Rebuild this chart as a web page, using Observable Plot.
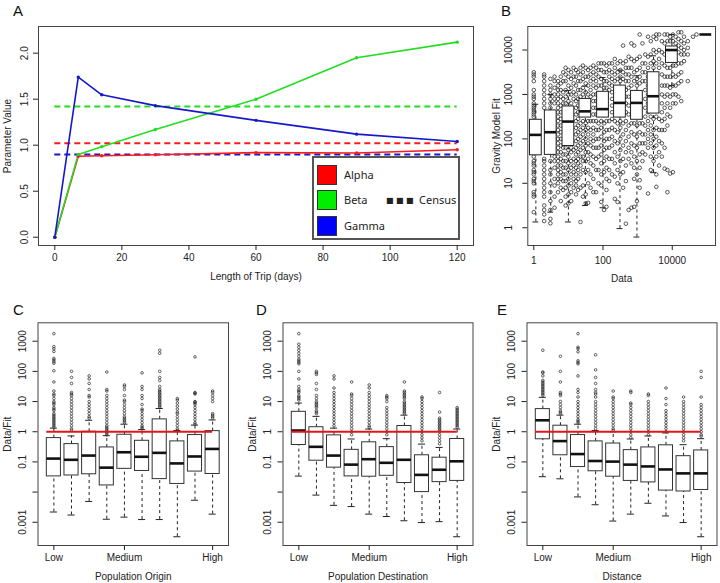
<!DOCTYPE html>
<html><head><meta charset="utf-8">
<script src="https://cdn.jsdelivr.net/npm/d3@7"></script>
<script src="https://cdn.jsdelivr.net/npm/@observablehq/plot@0.6"></script>
<style>
body{margin:0;background:#fff;}
#root{position:relative;width:720px;height:583px;overflow:hidden;font-family:"Liberation Sans",Arial,sans-serif;color:#222;background:#fff;}
.panel{position:absolute;}
.letter{position:absolute;font-size:15px;line-height:15px;color:#111;}
#legend{position:absolute;left:312px;top:156px;width:144px;height:80px;border:2px solid #555;background:#fff;font-family:"Noto Sans",sans-serif;font-size:11px;color:#222;}
#legend .sw{position:absolute;left:3px;width:20px;height:20px;border:1px solid #333;box-sizing:border-box;}
#legend .lab{position:absolute;left:30px;line-height:14px;}
</style></head><body>
<div id="root">
  <div class="panel" id="pA" style="left:0;top:0;width:480px;height:290px"></div>
  <div class="panel" id="pB" style="left:480px;top:0;width:240px;height:290px"></div>
  <div class="panel" id="pC" style="left:0;top:290px;width:240px;height:293px"></div>
  <div class="panel" id="pD" style="left:240px;top:290px;width:240px;height:293px"></div>
  <div class="panel" id="pE" style="left:480px;top:290px;width:240px;height:293px"></div>
  <div id="legend"></div>
  <div class="letter" style="left:13px;top:3px">A</div>
  <div class="letter" style="left:501px;top:3px">B</div>
  <div class="letter" style="left:13px;top:302px">C</div>
  <div class="letter" style="left:256px;top:302px">D</div>
  <div class="letter" style="left:497px;top:302px">E</div>
</div>
<script>
// ---------------- Panel A data ----------------
const tripDays = [0, 7, 14, 30, 60, 90, 120];
const alphaValues = [0, 0.88, 0.886, 0.897, 0.919, 0.915, 0.951];
const betaValues = [0, 0.90, 0.984, 1.17, 1.50, 1.95, 2.12];
const gammaValues = [0, 1.74, 1.548, 1.43, 1.27, 1.12, 1.04];
const paramNames = ["Alpha", "Beta", "Gamma"];
const paramColors = ["#ff1a1a", "#22dd22", "#1717cc"];
const legendColors = ["#ff0000", "#00ee00", "#0000ff"];
const censusValues = [1.02, 1.42, 0.90];
const aXTicks = [0, 20, 40, 60, 80, 100, 120];
const aYTicks = [0, 0.5, 1, 1.5, 2];

// ---------------- Panel B data (log10 units) ----------------
const bXTicks = [1, 100, 10000];
const bYTicks = [1, 10, 100, 1000, 10000];
const bBoxCenterLog = [0.06, 0.49, 1.0, 1.49, 2.0, 2.49, 2.98, 3.46, 3.99, 4.97];
const bQ1Log  = [1.63, 1.64, 1.84, 2.48, 2.48, 2.48, 2.43, 2.57, 3.71, 4.35];
const bMedLog = [2.09, 2.15, 2.39, 2.62, 2.67, 2.81, 2.81, 2.96, 4.00, 4.35];
const bQ3Log  = [2.43, 2.64, 2.73, 2.90, 3.06, 3.20, 3.08, 3.50, 4.08, 4.35];
const bLoLog  = [0.13, 0.35, 0.13, 0.50, 0.45, -0.02, -0.21, 1.24, 3.20, 4.35];
const bHiLog  = [2.78, 3.00, 3.09, 3.19, 3.38, 3.55, 3.42, 3.87, 4.35, 4.35];
// scatter: [log10 data, [log10 fit values...]]
const bScatterColumns = [
  [0.00, [3.5,3.45,3.4,3.3,3.1,3.0,2.95,2.9,2.8,2.75,2.7,2.65,2.6,2.55,2.5,1.6,1.5,1.45,1.4,1.3,1.25,1.2,1.1,1.05,1.0,0.8,0.75,0.7,0.35]],
  [0.30, [3.45,3.4,3.3,3.2,3.1,3.0,2.9,2.8,2.7,1.55,1.5,1.4,1.3,1.2,1.1,1.0,0.9,0.8,0.7,0.5,0.4,0.3,0.15]],
  [0.48, [3.35,3.2,3.1,3.0,2.9,2.8,2.7,1.5,1.3,1.2,1.0,0.8,0.6,0.4,0.2,0.1]],
  [0.60, [3.4,3.3,3.15,3.0,2.9,2.8,2.2,2.0,1.6,1.5,1.35,1.1,0.95,0.7,0.45]],
  [0.70, [3.3,3.2,3.1,3.0,2.9,2.8,2.7,2.6,2.5,2.4,2.3,2.2,2.1,2.0,1.9,1.8,1.7,1.6,1.5,1.4,1.3,1.2,1.1,1.0,0.8]],
  [0.78, [3.4,3.25,3.1,2.95,2.75,2.6,2.45,2.3,2.15,2.0,1.85,1.7,1.55,1.4,1.25,1.1,0.9,0.6]],
  [0.85, [3.5,3.3,3.05,2.9,2.8,1.8,1.65,1.5,1.35,1.2,1.05,0.85]],
  [0.92, [3.6,3.45,3.3,3.1,2.95,2.8,1.8,1.65,1.5,1.35,1.2,1.05,0.9,0.7,0.5]],
  [1.00, [3.55,3.4,3.2,3.0,2.85,1.75,1.6,1.45,1.3,1.1,0.95,0.75,0.55]],
  [1.08, [3.5,3.35,3.15,3.0,2.8,1.8,1.7,1.5,1.35,1.2,1.0,0.8,0.6]],
  [1.15, [3.6,3.4,3.25,3.05,2.9,1.75,1.55,1.4,1.25,1.1,0.9]],
  [1.22, [3.55,3.4,3.2,3.0,2.85,2.7,2.55,2.4,2.25,2.1,1.95,1.8,1.65,1.5,1.35,1.2,1.05,0.95,0.75]],
  [1.28, [3.5,3.3,3.1,2.9,2.75,2.6,2.45,2.3,2.15,2.0,1.85,1.7,1.55,1.45,1.3,1.1,0.85]],
  [1.35, [3.6,3.45,3.3,3.1,2.95,2.35,2.2,2.05,1.9,1.75,1.6,1.4,1.2,0.9,0.13]],
  [1.42, [3.65,3.5,3.35,3.15,3.0,2.4,2.25,2.1,1.95,1.8,1.6,1.5,1.3,0.95,0.7]],
  [1.50, [3.6,3.4,3.25,3.05,2.35,2.2,2.0,1.85,1.7,1.5,1.25,0.75,0.55]],
  [1.57, [3.55,3.4,3.2,3.0,2.4,2.25,2.1,1.9,1.7,1.55,1.3,1.0,0.56]],
  [1.64, [3.6,3.45,3.3,3.1,2.95,2.4,2.2,2.0,1.85,1.65,1.45,1.2,0.9]],
  [1.72, [3.65,3.5,3.35,3.2,3.0,2.85,2.7,2.55,2.4,2.25,2.1,1.95,1.8,1.6,1.4,1.1,0.8]],
  [1.80, [3.6,3.45,3.3,3.15,3.0,2.85,2.7,2.55,2.4,2.2,2.0,1.8,1.55,1.3,0.8]],
  [1.87, [3.7,3.55,3.4,3.2,2.35,2.2,2.0,1.8,1.6,1.3,1.0]],
  [1.95, [3.7,3.55,3.35,3.2,2.4,2.25,2.05,1.85,1.65,1.45,1.2,0.95,0.58]],
  [2.03, [3.7,3.5,3.3,3.15,2.35,2.15,1.95,1.75,1.5,1.25,0.4]],
  [2.10, [3.65,3.5,3.3,3.15,2.4,2.2,2.0,1.8,1.6,1.35,1.1,0.85,0.47]],
  [2.18, [3.7,3.55,3.4,3.25,3.1,2.4,2.2,2.0,1.8,1.55,1.3,1.05]],
  [2.26, [3.7,3.5,3.35,3.2,3.05,2.9,2.75,2.6,2.45,2.25,2.05,1.85,1.55,1.2]],
  [2.34, [3.8,3.6,3.45,3.3,2.4,2.2,1.95,1.7,1.45,1.15,0.65]],
  [2.42, [3.7,3.5,3.35,2.35,2.15,1.9,1.6,1.3,1.0,0.58]],
  [2.50, [3.75,3.55,3.4,3.3,2.4,2.25,2.0,1.75,1.5,1.2]],
  [2.58, [4.1,3.7,3.5,3.35,2.35,2.1,1.85,1.55,1.25,0.9]],
  [2.66, [3.75,3.6,3.45,3.3,3.1,2.95,2.8,2.6,2.4,2.2,1.95,1.7,1.4,1.05,0.09]],
  [2.74, [3.85,3.6,3.45,3.3,3.15,2.95,2.75,2.55,2.3,2.05,1.8,1.55,0.4]],
  [2.82, [4.15,3.8,3.6,3.4,3.2,2.35,2.15,1.9,1.7,1.45,0.45]],
  [2.90, [4.1,3.75,3.5,3.3,2.35,2.1,1.85,1.6,1.35,1.1,0.47]],
  [2.98, [3.8,3.55,3.35,3.2,2.3,2.05,1.8,1.5,1.2,0.6]],
  [3.06, [4.35,3.85,3.6,3.4,3.25,2.35,2.15,1.9,1.65,1.35,1.07,0.9]],
  [3.14, [4.15,3.7,3.5,3.3,2.35,2.1,1.9,1.7,1.5]],
  [3.22, [3.9,3.7,3.5,3.3,3.1,2.9,2.7,2.5,2.3,2.1,1.9,1.65]],
  [3.30, [4.3,3.85,3.6,3.4,3.2,3.0,2.8,2.6,2.4,2.2,2.0,1.8,0.77]],
  [3.38, [4.2,3.9,3.7,2.5,2.3,2.1,1.9,1.6,1.3]],
  [3.46, [4.3,4.0,3.75,3.6,2.45,2.2,2.0,1.8,1.5]],
  [3.54, [4.35,4.25,3.95,3.7,2.5,2.25,2.05,1.85,1.6,1.2,0.92]],
  [3.62, [4.35,4.0,3.8,3.6,2.45,2.2,1.95,1.7,1.4]],
  [3.70, [4.2,3.95,3.7,3.45,3.2,3.0,2.8,2.6,2.4,2.2,1.9,1.6]],
  [3.78, [4.35,4.15,3.9,3.65,3.4,3.2,2.95,2.7,2.45,2.2,1.8,1.33]],
  [3.86, [4.35,4.2,3.6,3.4,3.2,3.0,2.8,2.55,2.3,1.3,0.8]],
  [3.94, [4.3,4.2,3.6,3.4,3.15,2.95,2.7,2.5,1.22]],
  [4.02, [4.35,4.2,3.65,3.45,3.2,3.0,2.8,1.25]],
  [4.10, [4.3,4.15,3.65,3.4,3.2,3.0,2.8]],
  [4.18, [4.4,4.25,4.1,3.95,3.7,3.45,3.25,2.95]],
  [4.26, [4.4,4.2,4.05,3.9,3.7,3.5,3.3,2.85]],
  [4.34, [4.3,4.15,4.0,3.9,3.75]],
  [4.45, [4.2,4.05,3.9,3.3]],
  [4.60, [4.3]],
  [4.70, [4.35]]
];

// ---------------- Panels C, D, E data (log10 of Data/Fit) ----------------
const groupPositions = [1, 2, 3, 4, 5, 6, 7, 8, 9, 10];
const groupTickPositions = [1, 5, 10];
const groupTickLabels = ["Low", "Medium", "High"];
const ratioTicks = [0.001, 0.01, 0.1, 1, 10, 100, 1000];
const ratioTickLabels = ["0.001", "", "0.1", "1", "10", "100", "1000"];
const referenceRatio = [1];
const referenceSpan = [0.6, 10];

const cQ3Log  = [-0.21, -0.41, 0.00, -0.52, -0.10, -0.30, 0.41, -0.32, -0.11, 0.02];
const cMedLog = [-0.89, -0.93, -0.79, -1.19, -0.68, -0.83, -0.70, -1.05, -0.82, -0.57];
const cQ1Log  = [-1.48, -1.45, -1.41, -1.78, -1.23, -1.30, -1.57, -1.73, -1.32, -1.40];
const cLoLog  = [-2.66, -2.76, -2.31, -2.90, -2.83, -2.91, -2.91, -3.48, -2.27, -2.73];
const cHiLog  = [0.12, -0.14, 0.38, -0.13, 0.25, 0.07, 0.77, 0.04, 0.22, 0.39];
const cOutLog = [
  [3.25,2.82,2.75,2.66,2.43,2.38,2.32,2.27,2.02,1.65,1.35,1.25,1.2,1.1,1.0,0.95,0.9,0.8,0.75,0.7,0.6,0.55,0.5,0.45,0.4,0.35,0.3,0.25,0.2,0.15],
  [2.0,1.8,1.6,1.3,1.25,1.2,1.1,1.0,0.9,0.8,0.7,0.6,0.5,0.4,0.3,0.2,0.1,0.05],
  [1.85,1.75,1.6,1.4,1.2,1.15,1.0,0.9,0.8,0.7,0.6,0.5,0.45],
  [1.98,1.4,1.35,1.2,1.1,1.0,0.9,0.8,0.7,0.6,0.5,0.4,0.3,0.2,0.15,0.1,0.05,0.0,-0.05,-0.1],
  [1.55,1.5,1.4,1.2,1.05,1.0,0.9,0.8,0.7,0.6,0.5,0.45,0.4,0.35,0.3],
  [1.95,1.5,1.4,1.2,1.1,0.9,0.75,0.7,0.6,0.5,0.4,0.3,0.2,0.15,0.1],
  [2.7,2.6,2.0,1.8,1.7,1.5,1.4,1.35,1.3,1.25,1.2,1.15,1.1,1.05,1.0,0.95,0.9,0.85,0.8],
  [1.1,1.05,0.95,0.85,0.75,0.65,0.6,0.5,0.4,0.3,0.2,0.1,0.05],
  [2.48,1.3,1.28,1.25,1.0,0.98,0.95,0.9,0.8,0.7,0.6,0.5,0.4,0.3,0.25],
  [1.35,1.3,1.2,1.1,1.0,0.6,0.55,0.5,0.45]
];

const dQ3Log  = [0.66, 0.15, -0.12, -0.60, -0.35, -0.51, 0.19, -0.78, -0.86, -0.24];
const dMedLog = [0.04, -0.50, -0.79, -1.09, -0.91, -1.03, -0.93, -1.43, -1.26, -0.98];
const dQ1Log  = [-0.44, -0.96, -1.19, -1.48, -1.49, -1.46, -1.70, -2.00, -1.67, -1.63];
const dLoLog  = [-1.47, -2.10, -2.44, -2.48, -2.73, -2.81, -2.95, -3.01, -2.98, -3.48];
const dHiLog  = [0.95, 0.51, 0.12, -0.24, 0.09, -0.23, 0.55, -0.41, -0.52, 0.09];
const dOutLog = [
  [3.25,2.9,2.8,2.7,2.6,2.5,2.4,2.35,2.3,2.25,2.0,1.75,1.5,1.4,1.35,1.3,1.2,1.15,1.1,1.05],
  [2.0,1.95,1.9,1.6,1.4,1.2,1.1,1.0,0.95,0.9,0.85,0.8,0.7,0.65,0.6],
  [1.85,1.75,1.45,1.3,1.2,1.1,1.0,0.9,0.8,0.7,0.6,0.5,0.4,0.3,0.2],
  [1.65,1.25,1.2,1.1,1.0,0.9,0.8,0.7,0.6,0.5,0.4,0.3,0.2,0.1,0.0,-0.1],
  [1.55,1.45,1.3,1.2,1.1,1.0,0.9,0.8,0.7,0.6,0.5,0.4,0.3,0.2,0.15],
  [1.2,1.15,1.1,1.0,0.8,0.7,0.6,0.5,0.4,0.3,0.2,0.1,0.0,-0.1],
  [1.65,1.35,1.3,1.25,1.2,1.15,1.1,1.0,0.95,0.9,0.85,0.8,0.75,0.7,0.65,0.6],
  [1.15,1.1,1.0,0.9,0.8,0.7,0.6,0.5,0.4,0.3,0.2,0.1,0.0,-0.1,-0.2,-0.3],
  [1.3,0.65,0.45,0.4,0.35,0.3,0.25,0.2,0.15,0.1,0.05,0.0,-0.1,-0.2,-0.3,-0.4],
  [0.8,0.75,0.7,0.65,0.6,0.55,0.5,0.45,0.4,0.35,0.3,0.25,0.2,0.15]
];

const eQ3Log  = [0.75, 0.20, -0.11, -0.32, -0.39, -0.61, -0.52, -0.45, -0.81, -0.62];
const eMedLog = [0.38, -0.31, -0.74, -0.97, -0.99, -1.09, -1.15, -1.25, -1.38, -1.38];
const eQ1Log  = [-0.25, -0.78, -1.17, -1.31, -1.49, -1.63, -1.68, -1.95, -1.98, -1.93];
const eLoLog  = [-1.49, -1.56, -2.16, -2.42, -2.96, -2.73, -2.37, -2.79, -3.01, -3.48];
const eHiLog  = [1.14, 0.55, 0.25, 0.04, 0.00, -0.24, -0.14, -0.04, -0.43, -0.23];
const eOutLog = [
  [2.7,1.98,1.95,1.85,1.7,1.65,1.6,1.55,1.5,1.45,1.4,1.35,1.3,1.25,1.2],
  [2.5,2.0,1.65,1.3,1.25,1.2,1.0,0.9,0.8,0.7,0.65,0.6],
  [3.25,2.8,2.75,2.65,2.35,2.3,2.25,1.85,1.4,1.3,1.15,1.0,0.9,0.8,0.7,0.6,0.5,0.4,0.35,0.3],
  [2.55,2.05,1.8,1.6,1.4,1.3,1.25,1.15,1.0,0.9,0.8,0.7,0.6,0.5,0.4,0.3,0.2,0.1],
  [1.35,1.15,1.1,1.0,0.9,0.8,0.7,0.6,0.5,0.4,0.3,0.2,0.1,0.05],
  [1.35,1.3,0.95,0.9,0.8,0.7,0.6,0.5,0.4,0.3,0.2,0.1,0.0,-0.1,-0.2],
  [1.25,1.2,1.0,0.9,0.8,0.7,0.6,0.5,0.4,0.3,0.2,0.1,0.0,-0.1],
  [1.45,1.1,0.9,0.7,0.6,0.5,0.4,0.3,0.2,0.1,0.0],
  [1.15,1.0,0.9,0.8,0.7,0.6,0.5,0.4,0.3,0.2,0.1,0.0,-0.1,-0.2,-0.3],
  [2.0,1.8,1.15,0.9,0.8,0.7,0.6,0.5,0.4,0.3,0.2,0.1,0.0,-0.1,-0.15]
];

// ---------------- shared style ----------------
const FONT = '"Liberation Sans", Arial, sans-serif';
const baseStyle = {fontFamily: FONT, fontSize: "10px", color: "#222", background: "transparent"};
const p10 = v => Math.pow(10, v);
const noLabel = () => "";
// rotated (R-style) y tick labels
function yTickLabels(ticks, labels, dx) {
  return Plot.text(ticks, {y: d => d, text: (d, i) => labels[i], frameAnchor: "left", dx, rotate: -90, textAnchor: "middle", lineAnchor: "middle", fill: "#222"});
}

// ---------------- Panel A ----------------
const seriesValues = [alphaValues, betaValues, gammaValues];
const lineData = paramNames.flatMap((name, k) => tripDays.map((d, i) => ({series: name, day: d, value: seriesValues[k][i]})));
const censusData = paramNames.map((name, k) => ({series: name, value: censusValues[k]}));

const plotA = Plot.plot({
  width: 480, height: 290, marginLeft: 38, marginRight: 7, marginTop: 26, marginBottom: 45,
  style: baseStyle,
  x: {domain: [-4.86, 124.86]},
  y: {domain: [-0.09, 2.29]},
  color: {domain: paramNames, range: paramColors},
  marks: [
    Plot.ruleY(censusData, {y: "value", x1: tripDays[0], x2: tripDays[tripDays.length - 1], stroke: "series", strokeWidth: 2, strokeDasharray: "6,4"}),
    Plot.line(lineData, {x: "day", y: "value", z: "series", stroke: "series", strokeWidth: 1.6}),
    Plot.dot(lineData, {x: "day", y: "value", fill: "series", r: 1.7}),
    Plot.frame({stroke: "#444"}),
    Plot.axisX({ticks: aXTicks, tickSize: 5, tickPadding: 3, label: "Length of Trip (days)", labelAnchor: "center", labelOffset: 34, labelArrow: false}),
    Plot.axisY({ticks: aYTicks, tickFormat: noLabel, tickSize: 5, label: "Parameter Value", labelAnchor: "center", labelOffset: 35, labelArrow: false}),
    yTickLabels(aYTicks, aYTicks.map(d => d.toFixed(1)), -14)
  ]
});
document.getElementById("pA").appendChild(plotA);

// legend for A
const legend = document.getElementById("legend");
const legendRows = [7, 32, 58];
paramNames.forEach((name, k) => {
  const sw = document.createElement("div");
  sw.className = "sw"; sw.style.top = legendRows[k] + "px"; sw.style.background = legendColors[k];
  legend.appendChild(sw);
  const lab = document.createElement("div");
  lab.className = "lab"; lab.style.top = (legendRows[k] + 3) + "px"; lab.textContent = name;
  legend.appendChild(lab);
});
const cens = document.createElement("div");
cens.className = "lab"; cens.style.left = "72px"; cens.style.top = "35px";
cens.innerHTML = '<span style="font-family:\'DejaVu Sans\';font-size:8px;letter-spacing:2.5px;position:relative;top:-1px">■■■</span> Census';
legend.appendChild(cens);

// ---------------- Panel B ----------------
const bPoints = bScatterColumns.flatMap(([lx, lys]) => lys.map(ly => ({x: p10(lx), y: p10(ly)})));
const bBoxes = bBoxCenterLog.map((c, i) => ({
  c: p10(c), bx1: p10(c - 0.17), bx2: p10(c + 0.17), cx1: p10(c - 0.085), cx2: p10(c + 0.085),
  q1: p10(bQ1Log[i]), med: p10(bMedLog[i]), q3: p10(bQ3Log[i]), lo: p10(bLoLog[i]), hi: p10(bHiLog[i])
}));

const plotB = Plot.plot({
  width: 240, height: 290, marginLeft: 47.3, marginRight: 5, marginTop: 26, marginBottom: 45,
  style: baseStyle,
  x: {type: "log", domain: [p10(-0.173), p10(5.25)]},
  y: {type: "log", domain: [p10(-0.4), p10(4.53)]},
  marks: [
    Plot.dot(bPoints, {x: "x", y: "y", r: 1.8, stroke: "#222", strokeWidth: 0.75, fill: "none"}),
    Plot.ruleX(bBoxes, {x: "c", y1: "lo", y2: "q1", stroke: "#222", strokeDasharray: "3,3"}),
    Plot.ruleX(bBoxes, {x: "c", y1: "q3", y2: "hi", stroke: "#222", strokeDasharray: "3,3"}),
    Plot.ruleY(bBoxes, {y: "lo", x1: "cx1", x2: "cx2", stroke: "#222"}),
    Plot.ruleY(bBoxes, {y: "hi", x1: "cx1", x2: "cx2", stroke: "#222"}),
    Plot.rect(bBoxes, {x1: "bx1", x2: "bx2", y1: "q1", y2: "q3", fill: "white", stroke: "#222", strokeWidth: 1}),
    Plot.ruleY(bBoxes, {y: "med", x1: "bx1", x2: "bx2", stroke: "#111", strokeWidth: 2.6}),
    Plot.frame({stroke: "#444"}),
    Plot.axisX({ticks: bXTicks, tickFormat: d => String(d), tickSize: 5, tickPadding: 6, label: "Data", labelAnchor: "center", labelOffset: 36, labelArrow: false}),
    Plot.axisY({ticks: bYTicks, tickFormat: noLabel, tickSize: 5, label: "Gravity Model Fit", labelAnchor: "center", labelOffset: 35, labelArrow: false}),
    yTickLabels(bYTicks, bYTicks.map(String), -19.3)
  ]
});
document.getElementById("pB").appendChild(plotB);

// ---------------- Panels C, D, E ----------------
function boxPanel({q1, med, q3, lo, hi, out, label, marginLeft, marginRight}) {
  const boxes = groupPositions.map((p, i) => ({
    p, bx1: p - 0.4, bx2: p + 0.4, cx1: p - 0.2, cx2: p + 0.2,
    q1: p10(q1[i]), med: p10(med[i]), q3: p10(q3[i]), lo: p10(lo[i]), hi: p10(hi[i])
  }));
  const outliers = groupPositions.flatMap((p, i) => out[i].map(v => ({p, v: p10(v)})));
  return Plot.plot({
    width: 240, height: 293, marginLeft, marginRight, marginTop: 32.3, marginBottom: 38,
    style: baseStyle,
    x: {domain: [0.1, 10.9]},
    y: {type: "log", domain: [p10(-3.77), p10(3.61)]},
    marks: [
      Plot.ruleX(boxes, {x: "p", y1: "lo", y2: "q1", stroke: "#222", strokeDasharray: "3,3"}),
      Plot.ruleX(boxes, {x: "p", y1: "q3", y2: "hi", stroke: "#222", strokeDasharray: "3,3"}),
      Plot.ruleY(boxes, {y: "lo", x1: "cx1", x2: "cx2", stroke: "#222"}),
      Plot.ruleY(boxes, {y: "hi", x1: "cx1", x2: "cx2", stroke: "#222"}),
      Plot.rect(boxes, {x1: "bx1", x2: "bx2", y1: "q1", y2: "q3", fill: "white", stroke: "#333", strokeWidth: 1}),
      Plot.ruleY(boxes, {y: "med", x1: "bx1", x2: "bx2", stroke: "#111", strokeWidth: 2.6}),
      Plot.dot(outliers, {x: "p", y: "v", r: 1.3, stroke: "#222", strokeWidth: 0.7, fill: "none"}),
      Plot.ruleY(referenceRatio, {y: d => d, x1: referenceSpan[0], x2: referenceSpan[1], stroke: "#e3141b", strokeWidth: 2}),
      Plot.frame({stroke: "#444"}),
      Plot.axisX({ticks: groupTickPositions, tickFormat: d => groupTickLabels[groupTickPositions.indexOf(d)], tickSize: 5, tickPadding: 3, label: label, labelAnchor: "center", labelOffset: 34, labelArrow: false}),
      Plot.axisY({ticks: ratioTicks, tickFormat: noLabel, tickSize: 5, label: "Data/Fit", labelAnchor: "center", labelOffset: 34, labelArrow: false}),
      yTickLabels(ratioTicks, ratioTickLabels, -15.5)
    ]
  });
}

document.getElementById("pC").appendChild(boxPanel({q1: cQ1Log, med: cMedLog, q3: cQ3Log, lo: cLoLog, hi: cHiLog, out: cOutLog, label: "Population Origin", marginLeft: 37.5, marginRight: 12}));
document.getElementById("pD").appendChild(boxPanel({q1: dQ1Log, med: dMedLog, q3: dQ3Log, lo: dLoLog, hi: dHiLog, out: dOutLog, label: "Population Destination", marginLeft: 42.5, marginRight: 7.5}));
document.getElementById("pE").appendChild(boxPanel({q1: eQ1Log, med: eMedLog, q3: eQ3Log, lo: eLoLog, hi: eHiLog, out: eOutLog, label: "Distance", marginLeft: 46.5, marginRight: 3.5}));
</script>
</body></html>
